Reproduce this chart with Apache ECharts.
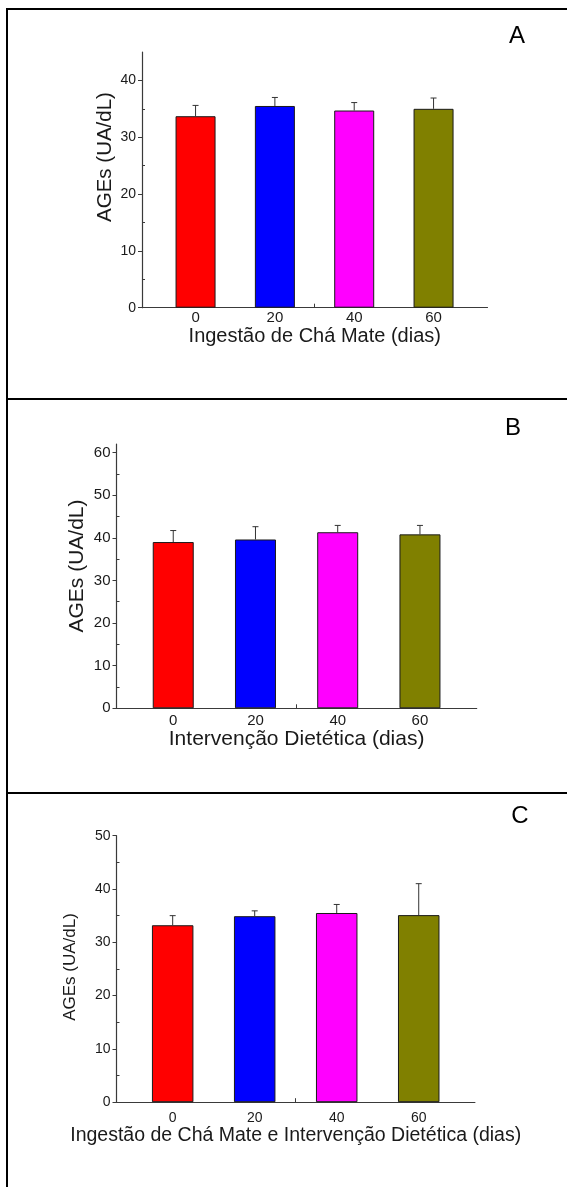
<!DOCTYPE html>
<html>
<head>
<meta charset="utf-8">
<script src="https://cdn.jsdelivr.net/npm/echarts@6/dist/echarts.min.js"></script>
<style>
html, body { margin: 0; padding: 0; background: #fff; }
#chart { width: 567px; height: 1187px; }
</style>
</head>
<body>
<div id="chart"></div>
<script>
// dias
const days = [0, 20, 40, 60];
const barColors = ['#ff0000', '#0000ff', '#ff00ff', '#808000'];

// A - Ingestão de Chá Mate
const agesA = [33.7, 35.5, 34.7, 35.0];
const errA = [1.9, 1.5, 1.4, 1.9];
const yTicksA = [0, 10, 20, 30, 40];

// B - Intervenção Dietética
const agesB = [39.0, 39.6, 41.3, 40.8];
const errB = [2.7, 3.0, 1.6, 2.1];
const yTicksB = [0, 10, 20, 30, 40, 50, 60];

// C - Chá Mate + Intervenção Dietética
const agesC = [33.2, 34.9, 35.5, 35.1];
const errC = [1.8, 1.0, 1.6, 5.9];
const yTicksC = [0, 10, 20, 30, 40, 50];

const FONT = '"Liberation Sans", Arial, sans-serif';
const INK = '#1a1a1a';
const AXIS = '#3a3a3a';

const panels = [
    { letter: 'A', ages: agesA, err: errA, yTicks: yTicksA, yMax: 45,
      xTitle: 'Ingestão de Chá Mate (dias)',
      grid: { left: 142, top: 52, width: 345.5, height: 255.7 },
      xMin: -13.5, xMax: 73.6, barWidth: 40,
      tickFont: 14, xTickFont: 15, xLabelMargin: 3, titleFont: 20, titleGap: 17,
      yTitleFont: 20.5, yTitlePos: [105, 157], letterPos: [517, 36] },
    { letter: 'B', ages: agesB, err: errB, yTicks: yTicksB, yMax: 62,
      xTitle: 'Intervenção Dietética (dias)',
      grid: { left: 116.5, top: 444, width: 360.2, height: 264.3 },
      xMin: -13.8, xMax: 73.8, barWidth: 41,
      tickFont: 15, xTickFont: 15, xLabelMargin: 5, titleFont: 21, titleGap: 18,
      yTitleFont: 21, yTitlePos: [77, 566], letterPos: [513, 428] },
    { letter: 'C', ages: agesC, err: errC, yTicks: yTicksC, yMax: 50,
      xTitle: 'Ingestão de Chá Mate e Intervenção Dietética (dias)',
      grid: { left: 116.5, top: 835.7, width: 358.4, height: 266.5 },
      xMin: -13.7, xMax: 73.7, barWidth: 41.5,
      tickFont: 14, xTickFont: 14, xLabelMargin: 9, titleFont: 19.5, titleGap: 21,
      yTitleFont: 17, yTitlePos: [70, 967], letterPos: [520, 816] }
];

const grids = [], xAxes = [], yAxes = [], series = [];
const graphics = [
    // panel frames
    { type: 'rect', shape: { x: 7, y: 9, width: 580, height: 390 }, style: { fill: 'none', stroke: '#000', lineWidth: 2 } },
    { type: 'rect', shape: { x: 7, y: 399, width: 580, height: 394 }, style: { fill: 'none', stroke: '#000', lineWidth: 2 } },
    { type: 'rect', shape: { x: 7, y: 793, width: 580, height: 420 }, style: { fill: 'none', stroke: '#000', lineWidth: 2 } }
];

panels.forEach(function (p, i) {
    grids.push(Object.assign({ containLabel: false }, p.grid));
    xAxes.push({
        type: 'value', gridIndex: i, min: p.xMin, max: p.xMax,
        name: p.xTitle, nameLocation: 'middle', nameGap: p.titleGap,
        nameTextStyle: { fontFamily: FONT, fontSize: p.titleFont, color: INK },
        axisLine: { onZero: false, lineStyle: { color: AXIS, width: 1.2 } },
        axisTick: { show: true, inside: true, length: 4, customValues: [30], lineStyle: { color: AXIS } },
        axisLabel: { customValues: days, margin: p.xLabelMargin, fontFamily: FONT, fontSize: p.xTickFont, color: INK },
        splitLine: { show: false }
    });
    const minor = p.yTicks.map(function (t) { return t + 5; }).filter(function (t) { return t < p.yMax; });
    yAxes.push({
        type: 'value', gridIndex: i, min: 0, max: p.yMax,
        axisLine: { show: true, onZero: false, lineStyle: { color: AXIS, width: 1.2 } },
        axisTick: { show: true, length: 4, customValues: p.yTicks, lineStyle: { color: AXIS } },
        axisLabel: { customValues: p.yTicks, margin: 6, fontFamily: FONT, fontSize: p.tickFont, color: INK },
        splitLine: { show: false }
    });
    yAxes.push({
        type: 'value', gridIndex: i, min: 0, max: p.yMax, position: 'left',
        axisLine: { show: false, onZero: false },
        axisTick: { show: true, inside: true, length: 3, customValues: minor, lineStyle: { color: AXIS } },
        axisLabel: { show: false },
        splitLine: { show: false }
    });

    series.push({
        type: 'bar', xAxisIndex: i, yAxisIndex: i * 2, barWidth: p.barWidth,
        data: days.map(function (d, k) {
            return { value: [d, p.ages[k]], itemStyle: { color: barColors[k], borderColor: '#1a1a1a', borderWidth: 1 } };
        }),
        z: 2
    });
    series.push({
        type: 'custom', xAxisIndex: i, yAxisIndex: i * 2, z: 3,
        data: days.map(function (d, k) { return [d, p.ages[k], p.ages[k] + p.err[k]]; }),
        renderItem: function (params, api) {
            const base = api.coord([api.value(0), api.value(1)]);
            const top = api.coord([api.value(0), api.value(2)]);
            const st = { stroke: '#333', lineWidth: 1 };
            return {
                type: 'group',
                children: [
                    { type: 'line', shape: { x1: base[0], y1: base[1], x2: top[0], y2: top[1] }, style: st },
                    { type: 'line', shape: { x1: top[0] - 3, y1: top[1], x2: top[0] + 3, y2: top[1] }, style: st }
                ]
            };
        }
    });

    graphics.push({
        type: 'text', x: p.yTitlePos[0], y: p.yTitlePos[1], rotation: Math.PI / 2,
        style: { text: 'AGEs (UA/dL)', align: 'center', verticalAlign: 'middle',
                 fontFamily: FONT, fontSize: p.yTitleFont, fill: INK }
    });
    graphics.push({
        type: 'text', x: p.letterPos[0], y: p.letterPos[1],
        style: { text: p.letter, align: 'center', verticalAlign: 'middle',
                 fontFamily: FONT, fontSize: 24, fill: '#000' }
    });
});

const chart = echarts.init(document.getElementById('chart'), null, { renderer: 'canvas' });
chart.setOption({
    animation: false,
    backgroundColor: '#fff',
    grid: grids,
    xAxis: xAxes,
    yAxis: yAxes,
    series: series,
    graphic: graphics
});
</script>
</body>
</html>
